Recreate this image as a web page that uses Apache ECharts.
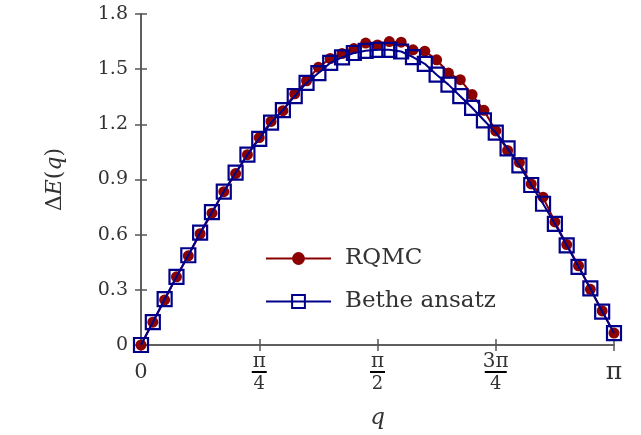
<!DOCTYPE html>
<html>
<head>
<meta charset="utf-8">
<script src="https://cdn.jsdelivr.net/npm/echarts@6/dist/echarts.min.js"></script>
<style>
  html, body { margin: 0; padding: 0; background: #fff; }
  #chart { width: 641px; height: 435px; }
</style>
</head>
<body>
<div id="chart"></div>
<script>
// q in units of pi
const qOverPi = [0, 0.025, 0.05, 0.075, 0.1, 0.125, 0.15, 0.175, 0.2, 0.225,
    0.25, 0.275, 0.3, 0.325, 0.35, 0.375, 0.4, 0.425, 0.45, 0.475,
    0.5, 0.525, 0.55, 0.575, 0.6, 0.625, 0.65, 0.675, 0.7, 0.725,
    0.75, 0.775, 0.8, 0.825, 0.85, 0.875, 0.9, 0.925, 0.95, 0.975, 1];

const rqmc = [0, 0.124, 0.245, 0.371, 0.485, 0.605, 0.717, 0.834, 0.932, 1.035,
    1.128, 1.216, 1.274, 1.366, 1.437, 1.510, 1.558, 1.585, 1.612, 1.642,
    1.632, 1.650, 1.647, 1.605, 1.598, 1.551, 1.479, 1.443, 1.362, 1.276,
    1.164, 1.058, 0.993, 0.876, 0.804, 0.669, 0.546, 0.431, 0.303, 0.185, 0.065];

const bethe = [0, 0.124, 0.250, 0.371, 0.488, 0.611, 0.723, 0.834, 0.937, 1.035,
    1.121, 1.209, 1.277, 1.353, 1.425, 1.479, 1.534, 1.564, 1.588, 1.600,
    1.605, 1.605, 1.596, 1.566, 1.529, 1.470, 1.416, 1.353, 1.290, 1.222,
    1.155, 1.069, 0.977, 0.870, 0.768, 0.659, 0.542, 0.425, 0.308, 0.182, 0.065];

const xTicks = { 0: '0', 0.25: 'π/4', 0.5: 'π/2', 0.75: '3π/4', 1: 'π' };

const font = 'DejaVu Serif';
const axisColor = '#555';
const textColor = '#333';

function pairs(xs, ys) {
    let out = [];
    for (let i = 0; i < xs.length; i++) {
        out.push([xs[i], ys[i]]);
    }
    return out;
}

function xLabel(value) {
    let key = Math.round(value * 100) / 100;
    let t = xTicks[key];
    if (t === undefined) return '';
    if (t === 'π') return '{pi|π}';
    if (t.indexOf('/') < 0) return '{p|' + t + '}';
    let parts = t.split('/');
    let bar = parts[0].length > 1 ? 'wbar' : 'bar';
    return '{n|' + parts[0] + '}\n{' + bar + '|}\n{d|' + parts[1] + '}';
}

let chart = echarts.init(document.getElementById('chart'));
chart.setOption({
    backgroundColor: '#fff',
    animation: false,
    grid: { left: 141, right: 27, top: 14, bottom: 88 },
    legend: {
        orient: 'vertical',
        left: 265,
        top: 247,
        padding: 0,
        itemWidth: 65,
        itemHeight: 16,
        itemGap: 20,
        textStyle: { fontFamily: font, fontSize: 23, color: textColor, padding: [0, 0, 0, 9] },
        data: ['RQMC', 'Bethe ansatz']
    },
    xAxis: [{
        type: 'value',
        min: 0,
        max: 1,
        interval: 0.25,
        name: 'q',
        nameLocation: 'middle',
        nameGap: 62,
        nameTextStyle: { fontFamily: font, fontSize: 23, fontStyle: 'italic', color: textColor },
        axisLine: { lineStyle: { color: axisColor, width: 1.5 } },
        axisTick: { inside: true, length: 6, lineStyle: { color: axisColor, width: 1.5 } },
        splitLine: { show: false },
        axisLabel: {
            margin: 9,
            formatter: xLabel,
            color: textColor,
            rich: {
                p: { fontFamily: font, fontSize: 21, color: textColor, padding: [8, 0, 0, 0] },
                pi: { fontFamily: font, fontSize: 25, color: textColor, padding: [6, 0, 0, 0] },
                n: { fontFamily: font, fontSize: 20, color: textColor, align: 'center', lineHeight: 16 },
                bar: { width: 15, height: 2, backgroundColor: '#000', align: 'center', lineHeight: 4 },
                wbar: { width: 22, height: 2, backgroundColor: '#000', align: 'center', lineHeight: 4 },
                d: { fontFamily: font, fontSize: 18, color: textColor, align: 'center', lineHeight: 20 }
            }
        }
    }, {
        type: 'value',
        position: 'top',
        min: 0,
        max: 1,
        interval: 0.25,
        axisLine: { lineStyle: { color: axisColor, width: 1.5 } },
        axisTick: { inside: true, length: 6, lineStyle: { color: axisColor, width: 1.5 } },
        axisLabel: { show: false },
        splitLine: { show: false }
    }],
    yAxis: [{
        type: 'value',
        min: 0,
        max: 1.8,
        interval: 0.3,
        name: '{r|Δ}{i|E}{r|(}{i|q}{r|)}',
        nameLocation: 'middle',
        nameRotate: 90,
        nameGap: 75,
        nameTextStyle: {
            rich: {
                r: { fontFamily: font, fontSize: 22, color: textColor },
                i: { fontFamily: font, fontSize: 22, fontStyle: 'italic', color: textColor }
            }
        },
        axisLine: { lineStyle: { color: axisColor, width: 1.5 } },
        axisTick: { inside: true, length: 6, lineStyle: { color: axisColor, width: 1.5 } },
        splitLine: { show: false },
        axisLabel: {
            margin: 13,
            fontFamily: font,
            fontSize: 19,
            color: textColor,
            formatter: function (v) { return v === 0 ? '0' : v.toFixed(1); }
        }
    }, {
        type: 'value',
        position: 'right',
        min: 0,
        max: 1.8,
        interval: 0.3,
        axisLine: { show: true, lineStyle: { color: axisColor, width: 1.5 } },
        axisTick: { show: true, inside: true, length: 6, lineStyle: { color: axisColor, width: 1.5 } },
        axisLabel: { show: false },
        splitLine: { show: false }
    }],
    series: [
        {
            name: 'RQMC',
            type: 'line',
            data: pairs(qOverPi, rqmc),
            symbol: 'circle',
            symbolSize: 11,
            showAllSymbol: true,
            lineStyle: { color: '#8b0000', width: 2 },
            itemStyle: { color: '#8b0000' },
            z: 2
        },
        {
            name: 'Bethe ansatz',
            type: 'line',
            data: pairs(qOverPi, bethe),
            symbol: 'rect',
            symbolSize: 14,
            showAllSymbol: true,
            lineStyle: { color: '#00008b', width: 2 },
            itemStyle: { color: 'rgba(0,0,0,0)', borderColor: '#00008b', borderWidth: 2.2 },
            z: 3
        }
    ]
});
</script>
</body>
</html>
